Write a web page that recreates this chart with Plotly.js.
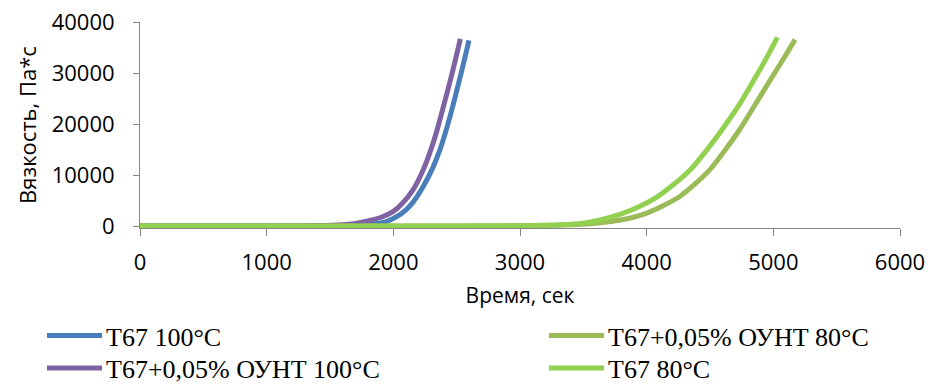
<!DOCTYPE html>
<html>
<head>
<meta charset="utf-8">
<script src="https://cdn.plot.ly/plotly-3.0.1.min.js"></script>
<style>
  html, body { margin: 0; padding: 0; background: #fff; }
  #chart { width: 936px; height: 384px; }
</style>
</head>
<body>
<div id="chart"></div>
<script>
// Viscosity vs. time for T67 with and without 0.05% SWCNT at 100 °C and 80 °C
const seriesNames = [
  'T67 100°C',
  'T67+0,05% ОУНТ 100°C',
  'T67+0,05% ОУНТ 80°C',
  'T67 80°C'
];
const seriesColors = ['#4A7EBB', '#7F62A2', '#9BBB59', '#92D050'];

const timeT67_100 = [0, 1000, 1600, 1800, 1900, 1950, 2030, 2100, 2150, 2230, 2313, 2370, 2428, 2470, 2510, 2555, 2597];
const viscT67_100 = [150, 150, 200, 400, 750, 1050, 2000, 3300, 4600, 7600, 11600, 15200, 19800, 23600, 27500, 32000, 36400];

const timeCNT_100 = [0, 1000, 1400, 1600, 1700, 1800, 1900, 2000, 2068, 2150, 2239, 2300, 2350, 2400, 2450, 2490, 2529];
const viscCNT_100 = [150, 160, 220, 400, 650, 1150, 1800, 3000, 4500, 7000, 11300, 15300, 19300, 23900, 28600, 32600, 36700];

const timeCNT_80 = [0, 1500, 2500, 3000, 3300, 3450, 3578, 3700, 3817, 3910, 4001, 4130, 4264, 4380, 4501, 4620, 4732, 4850, 4974, 5075, 5172];
const viscCNT_80 = [150, 150, 160, 180, 300, 420, 620, 950, 1400, 1950, 2670, 4100, 5950, 8300, 11200, 15000, 18900, 23600, 28600, 32600, 36560];

const timeT67_80 = [0, 1500, 2500, 3000, 3200, 3350, 3475, 3633, 3817, 3950, 4080, 4210, 4343, 4500, 4645, 4750, 4843, 4940, 5032];
const viscT67_80 = [150, 150, 160, 200, 280, 420, 620, 1320, 2670, 4050, 5800, 8200, 11100, 15800, 20700, 24600, 28500, 32700, 37000];

const xTicks = [0, 1000, 2000, 3000, 4000, 5000, 6000];
const yTicks = [0, 10000, 20000, 30000, 40000];

const seriesX = [timeT67_100, timeCNT_100, timeCNT_80, timeT67_80];
const seriesY = [viscT67_100, viscCNT_100, viscCNT_80, viscT67_80];

const traces = seriesX.map((xs, i) => ({
  type: 'scatter',
  mode: 'lines',
  name: seriesNames[i],
  x: xs,
  y: seriesY[i],
  line: { color: seriesColors[i], width: 5, shape: 'spline', smoothing: 0.8 },
  showlegend: false,
  hoverinfo: 'x+y+name'
}));

// page geometry
const W = 936, H = 384;
const M = { l: 140, r: 36, t: 22, b: 156 };
const pw = W - M.l - M.r, ph = H - M.t - M.b;
const px2x = px => (px - M.l) / pw;
const py2y = py => (H - M.b - py) / ph;

// two-column legend under the plot: [row, column] for each series
const legendSlots = [[0, 0], [1, 0], [0, 1], [1, 1]];
const colLineX = [47, 549];
const rowY = [335.5, 368];
const shapes = [];
const annotations = [];
legendSlots.forEach(([row, col], i) => {
  shapes.push({
    type: 'line', xref: 'paper', yref: 'paper',
    x0: px2x(colLineX[col]), x1: px2x(colLineX[col] + 55),
    y0: py2y(rowY[row]), y1: py2y(rowY[row]),
    line: { color: seriesColors[i], width: 5 }
  });
  annotations.push({
    xref: 'paper', yref: 'paper',
    x: px2x(colLineX[col] + 57), y: py2y(rowY[row] + 1.5),
    xanchor: 'left', yanchor: 'middle', showarrow: false,
    text: seriesNames[i],
    font: { family: 'Liberation Serif', size: 26, color: '#000' }
  });
});

const axisFont = { family: 'Open Sans', size: 22, color: '#000' };

const layout = {
  width: W, height: H,
  margin: M,
  paper_bgcolor: '#fff', plot_bgcolor: '#fff',
  showlegend: false,
  xaxis: {
    range: [0, 6000],
    tickvals: xTicks,
    ticktext: xTicks.map(String),
    ticks: 'outside', ticklen: 7, tickcolor: '#868686', tickwidth: 1,
    showline: true, linecolor: '#868686', linewidth: 1,
    showgrid: false, zeroline: false,
    tickfont: axisFont,
    ticklabelstandoff: 8,
    title: { text: 'Время, сек', font: { family: 'Open Sans', size: 21, color: '#000' }, standoff: 12 }
  },
  yaxis: {
    range: [-250, 40000],
    tickvals: yTicks,
    ticktext: yTicks.map(String),
    ticks: 'outside', ticklen: 6, tickcolor: '#868686', tickwidth: 1,
    showline: true, linecolor: '#868686', linewidth: 1,
    showgrid: false, zeroline: false,
    tickfont: axisFont,
    ticklabelstandoff: 14,
    title: { text: 'Вязкость, Па*с', font: { family: 'Open Sans', size: 22, color: '#000' }, standoff: 8 }
  },
  shapes: shapes,
  annotations: annotations
};

Plotly.newPlot('chart', traces, layout, { staticPlot: true, displayModeBar: false });
</script>
</body>
</html>
